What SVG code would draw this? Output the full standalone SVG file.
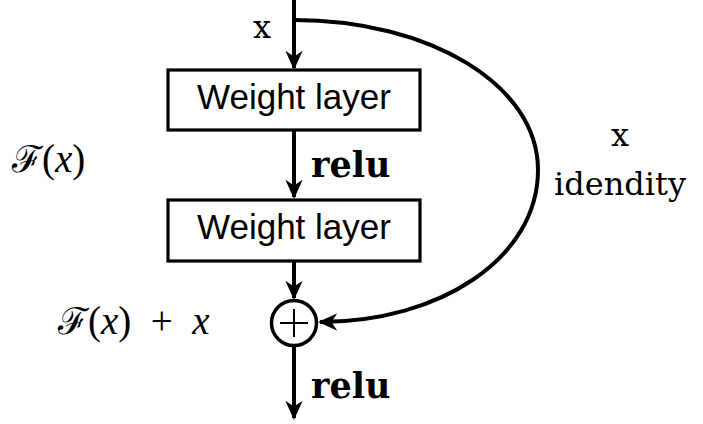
<svg xmlns="http://www.w3.org/2000/svg" width="703" height="424" viewBox="0 0 703 424">
<style>
.box{fill:#fff;stroke:#000;stroke-width:3.2}
.ln{fill:none;stroke:#000;stroke-width:4}
.sans{font-family:"Liberation Sans","DejaVu Sans",sans-serif;font-size:35px;fill:#000}
.serif{font-family:"DejaVu Serif","Liberation Serif",serif;font-size:32px;fill:#000}
.math{font-family:"Liberation Serif","DejaVu Serif",serif;font-size:39px;fill:#000}
.cal{font-family:"DejaVu Serif",serif;font-size:37px}
.bold{font-weight:bold;font-size:35px}
.it{font-style:italic}
</style>
<defs>
<marker id="ah" viewBox="0 0 10 10" refX="9" refY="5" markerWidth="4.8" markerHeight="4.8" orient="auto" markerUnits="strokeWidth">
<path d="M0,0.5 L10,5 L0,9.5 L3,5 Z" fill="#000"/>
</marker>
</defs>
<g id="connectors">
<path class="ln" d="M294,0 V68" marker-end="url(#ah)"/>
<path class="ln" d="M294,130 V197" marker-end="url(#ah)"/>
<path class="ln" d="M294,261 V298" marker-end="url(#ah)"/>
<path class="ln" d="M294,347 V418" marker-end="url(#ah)"/>
<path class="ln" d="M294,20 C430,20 538,85 538,170 C538,258 440,322 320,322" marker-end="url(#ah)"/>
</g>
<g id="weight1">
<rect class="box" x="168" y="70" width="252" height="60"/>
<text class="sans" x="294" y="109" text-anchor="middle">Weight layer</text>
</g>
<g id="weight2">
<rect class="box" x="168" y="200" width="252" height="61"/>
<text class="sans" x="294" y="239" text-anchor="middle">Weight layer</text>
</g>
<g id="add">
<circle cx="294" cy="323" r="22.5" fill="#fff" stroke="#000" stroke-width="3.5"/>
<path d="M280,323 H308 M294,309 V337" stroke="#000" stroke-width="2"/>
</g>
<g id="labels">
<text class="serif" x="262" y="38" text-anchor="middle">x</text>
<text class="math" x="12" y="172"><tspan class="cal">ℱ</tspan>(<tspan class="it">x</tspan>)</text>
<text class="serif bold" x="311" y="177">relu</text>
<text class="serif" x="620" y="146" text-anchor="middle">x</text>
<text class="serif" x="620" y="195" text-anchor="middle">idendity</text>
<text class="math" x="58" y="334" xml:space="preserve"><tspan class="cal">ℱ</tspan>(<tspan class="it">x</tspan>)  +  <tspan class="it">x</tspan></text>
<text class="serif bold" x="311" y="398">relu</text>
</g>
</svg>
